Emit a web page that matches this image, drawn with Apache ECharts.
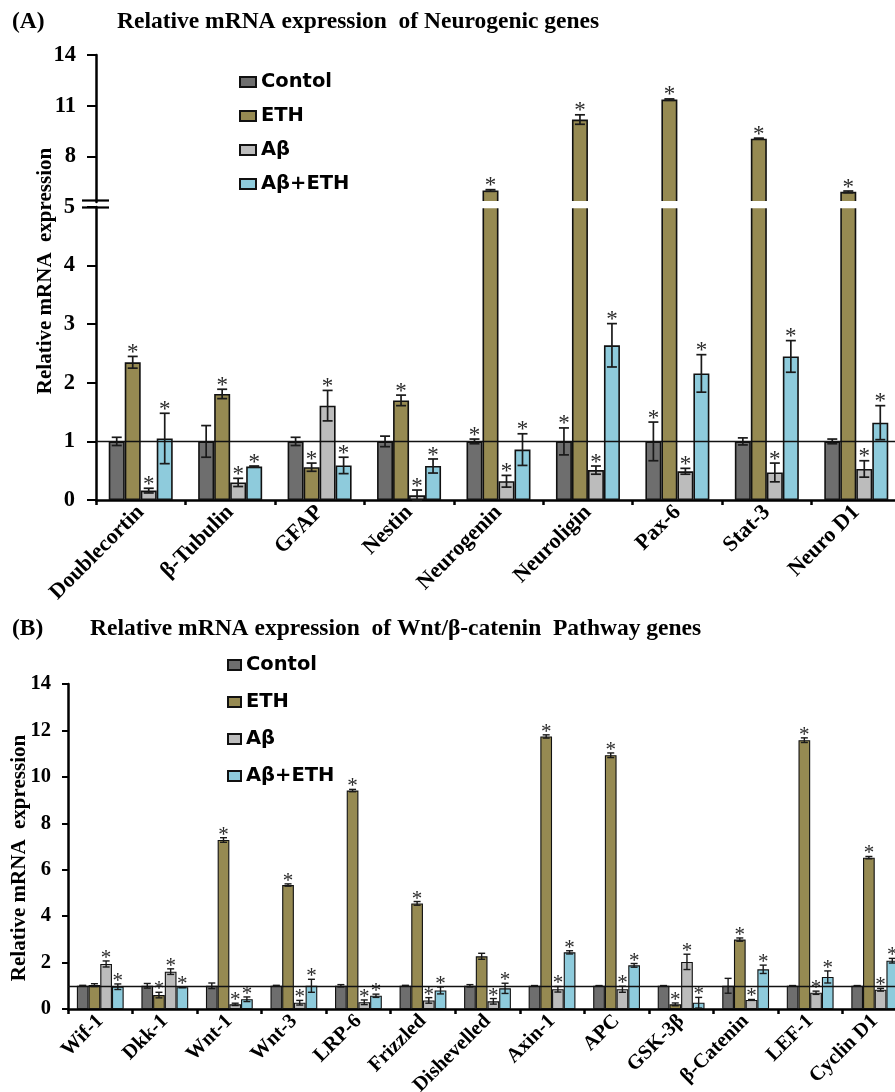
<!DOCTYPE html>
<html><head><meta charset="utf-8">
<script src="https://cdn.jsdelivr.net/npm/echarts@6/dist/echarts.min.js"></script>
<style>html,body{margin:0;padding:0;background:#fff}#c{width:895px;height:1092px}</style>
</head><body><div id="c"></div>
<script>
// ---------- Panel A data ----------
const catA = ['Doublecortin','β-Tubulin','GFAP','Nestin','Neurogenin','Neuroligin','Pax-6','Stat-3','Neuro D1'];
const ctrlA     = [1, 1, 1, 1, 1, 1, 1, 1, 1];
const ctrlErrA  = [0.07, 0.27, 0.07, 0.09, 0.04, 0.23, 0.33, 0.06, 0.04];
const ethA      = [2.35, 1.81, 0.56, 1.70, 5.98, 10.18, 11.36, 9.05, 5.90];
const ethErrA   = [0.10, 0.08, 0.07, 0.09, 0.05, 0.28, 0.04, 0.03, 0.05];
const abA       = [0.16, 0.30, 1.61, 0.08, 0.32, 0.51, 0.49, 0.47, 0.53];
const abErrA    = [0.04, 0.07, 0.26, 0.09, 0.10, 0.07, 0.05, 0.16, 0.14];
const abethA    = [1.05, 0.57, 0.59, 0.58, 0.86, 2.64, 2.16, 2.45, 1.32];
const abethErrA = [0.43, 0.01, 0.14, 0.12, 0.27, 0.37, 0.32, 0.27, 0.29];
const ctrlStarA  = [0, 0, 0, 0, 1, 1, 1, 0, 0];
const ethStarA   = [1, 1, 1, 1, 1, 1, 1, 1, 1];
const abStarA    = [1, 1, 1, 1, 1, 1, 1, 1, 1];
const abethStarA = [1, 1, 1, 1, 1, 1, 1, 1, 1];
const lowTicksA  = [0, 1, 2, 3, 4, 5];
const highTicksA = [8, 11, 14];

// ---------- Panel B data ----------
const catB = ['Wif-1','Dkk-1','Wnt-1','Wnt-3','LRP-6','Frizzled','Dishevelled','Axin-1','APC','GSK-3β','β-Catenin','LEF-1','Cyclin D1'];
const ctrlB     = [1, 1, 1, 1, 1, 1, 1, 1, 1, 1, 1, 1, 1];
const ctrlErrB  = [0.02, 0.10, 0.12, 0.02, 0.05, 0.02, 0.05, 0.01, 0.01, 0.01, 0.32, 0.01, 0.01];
const ethB      = [1.03, 0.60, 7.28, 5.34, 9.41, 4.55, 2.27, 11.74, 10.93, 0.20, 2.99, 11.58, 6.52];
const ethErrB   = [0.06, 0.12, 0.10, 0.05, 0.05, 0.08, 0.13, 0.07, 0.10, 0.06, 0.07, 0.10, 0.05];
const abB       = [1.94, 1.61, 0.20, 0.27, 0.29, 0.37, 0.33, 0.85, 0.85, 2.03, 0.39, 0.70, 0.83];
const abErrB    = [0.13, 0.12, 0.05, 0.10, 0.10, 0.12, 0.12, 0.12, 0.13, 0.33, 0.02, 0.07, 0.06];
const abethB    = [0.96, 0.94, 0.42, 1.00, 0.57, 0.80, 0.89, 2.44, 1.88, 0.27, 1.71, 1.38, 2.08];
const abethErrB = [0.12, 0.02, 0.10, 0.28, 0.07, 0.15, 0.22, 0.07, 0.08, 0.23, 0.18, 0.26, 0.10];
const ctrlStarB  = [0, 0, 0, 0, 0, 0, 0, 0, 0, 0, 0, 0, 0];
const ethStarB   = [0, 1, 1, 1, 1, 1, 0, 1, 1, 1, 1, 1, 1];
const abStarB    = [1, 1, 1, 1, 1, 1, 1, 1, 1, 1, 1, 1, 1];
const abethStarB = [1, 1, 1, 1, 1, 1, 1, 1, 1, 1, 1, 1, 1];

const names  = ['Contol', 'ETH', 'Aβ', 'Aβ+ETH'];
const colors = ['#6e6e6e', '#968a52', '#bcbcbc', '#8ecbdc'];

const SERIF = '"Liberation Serif", "Times New Roman", serif';
const SANS  = '"DejaVu Sans", sans-serif';

const valsA  = [ctrlA, ethA, abA, abethA];
const errsA  = [ctrlErrA, ethErrA, abErrA, abethErrA];
const starsA = [ctrlStarA, ethStarA, abStarA, abethStarA];
const valsB  = [ctrlB, ethB, abB, abethB];
const errsB  = [ctrlErrB, ethErrB, abErrB, abethErrB];
const starsB = [ctrlStarB, ethStarB, abStarB, abethStarB];

function errRender(k, bw, cap, lo, hi, starSize, starGap, lw) {
  return function (params, api) {
    const ci = api.value(0), v = api.value(1), e = api.value(2), s = api.value(3);
    if (v < lo || v > hi) return null;
    const c = api.coord([ci, v]);
    const x = c[0] + (k - 1.5) * bw;
    const yt = api.coord([ci, v + e])[1];
    const yb = api.coord([ci, Math.max(v - e, 0)])[1];
    const st = { stroke: '#1a1a1a', lineWidth: lw };
    const ch = [
      { type: 'line', shape: { x1: x, y1: yt, x2: x, y2: yb }, style: st },
      { type: 'line', shape: { x1: x - cap, y1: yt, x2: x + cap, y2: yt }, style: st },
      { type: 'line', shape: { x1: x - cap, y1: yb, x2: x + cap, y2: yb }, style: st }
    ];
    if (s) ch.push({ type: 'text', x: x, y: yt - starGap,
      style: { text: '*', font: starSize + 'px ' + SERIF, fill: '#2a2a2a', align: 'center', verticalAlign: 'bottom' } });
    return { type: 'group', children: ch };
  };
}

const series = [];
function addPanel(cats, vals, errs, stars, xi, bw, border, cap, lo, hi, starSize, starGap, lw, withLine, errOnly) {
  for (let k = 0; k < 4; k++) {
    const b = {
      type: 'bar', name: names[k], xAxisIndex: xi, yAxisIndex: xi,
      data: vals[k], barWidth: bw, barGap: '0%', clip: true, silent: true,
      itemStyle: { color: colors[k], borderColor: '#111', borderWidth: border }
    };
    if (withLine && k === 3) {
      b.markLine = { silent: true, symbol: 'none', label: { show: false },
        lineStyle: { color: '#111', width: 1.3, type: 'solid' }, data: [{ yAxis: 1 }] };
    }
    series.push(b);
  }
  for (let k = 0; k < 4; k++) {
    if (errOnly !== undefined && errOnly !== k) continue;
    series.push({
      type: 'custom', xAxisIndex: xi, yAxisIndex: xi, silent: true, z: 4,
      renderItem: errRender(k, bw, cap, lo, hi, starSize, starGap, lw),
      data: cats.map((c, i) => [i, vals[k][i], errs[k][i], stars[k][i]])
    });
  }
}
// Panel A upper (broken part), panel A lower, panel B
addPanel(catA, valsA, errsA, starsA, 0, 16, 1.6, 5, 5.0001, 100, 23, -8, 1.7, false, 1);
addPanel(catA, valsA, errsA, starsA, 1, 16, 1.6, 5, -1, 5, 23, -8, 1.7, true);
addPanel(catB, valsB, errsB, starsB, 2, 11.7, 1.1, 3.5, -1, 100, 21, -8, 1.4, true);

const axisLine = { show: true, lineStyle: { color: '#000', width: 2.5 } };
const yLabel = (fs, m) => ({ color: '#000', fontFamily: SERIF, fontWeight: 'bold', fontSize: fs, margin: m });
const xLabel = (fs) => ({ color: '#000', fontFamily: SERIF, fontWeight: 'bold', fontSize: fs, rotate: 45, margin: 9, interval: 0 });
const titleStyle = { fontFamily: SERIF, fontWeight: 'bold', fontSize: 23.5, color: '#000' };

const option = {
  animation: false,
  backgroundColor: '#fff',
  title: [
    { text: '(A)', left: 12, top: 10, padding: 0, textStyle: titleStyle },
    { text: 'Relative mRNA expression  of Neurogenic genes', left: 117, top: 10, padding: 0, textStyle: titleStyle },
    { text: '(B)', left: 12, top: 617, padding: 0, textStyle: titleStyle },
    { text: 'Relative mRNA expression  of Wnt/β-catenin  Pathway genes', left: 90, top: 617, padding: 0, textStyle: titleStyle }
  ],
  legend: [
    { data: names, orient: 'vertical', left: 239, top: 72, itemWidth: 16, itemHeight: 10, itemGap: 14, icon: 'rect', padding: 0,
      selectedMode: false, textStyle: { fontFamily: SANS, fontWeight: 'bold', fontSize: 19.5, color: '#000' } },
    { data: names, orient: 'vertical', left: 227, top: 655, itemWidth: 13, itemHeight: 10, itemGap: 17, icon: 'rect', padding: 0,
      selectedMode: false, textStyle: { fontFamily: SANS, fontWeight: 'bold', fontSize: 19.5, color: '#000' } }
  ],
  grid: [
    { left: 96, right: -6, top: 55, height: 147, outerBoundsMode: 'none', containLabel: false },
    { left: 96, right: -6, top: 207, height: 293, outerBoundsMode: 'none', containLabel: false },
    { left: 68, right: -12, top: 684, height: 325, outerBoundsMode: 'none', containLabel: false }
  ],
  xAxis: [
    { type: 'category', gridIndex: 0, data: catA, show: false },
    { type: 'category', gridIndex: 1, data: catA, axisLine: axisLine,
      axisTick: { show: true, length: 5, interval: 0, lineStyle: { color: '#000', width: 2.5 } }, axisLabel: xLabel(22) },
    { type: 'category', gridIndex: 2, data: catB, axisLine: axisLine,
      axisTick: { show: true, length: 5, interval: 0, lineStyle: { color: '#000', width: 2.5 } }, axisLabel: xLabel(20.5) }
  ],
  yAxis: [
    { type: 'value', gridIndex: 0, min: 5.3, max: 14, axisLine: axisLine, splitLine: { show: false },
      axisTick: { show: true, length: 9, customValues: highTicksA, lineStyle: { color: '#000', width: 2 } },
      axisLabel: Object.assign(yLabel(22.5, 20), { customValues: highTicksA }) },
    { type: 'value', gridIndex: 1, min: 0, max: 5, interval: 1, axisLine: axisLine, splitLine: { show: false },
      axisTick: { show: true, length: 9, lineStyle: { color: '#000', width: 2 } },
      axisLabel: Object.assign(yLabel(22.5, 21), { customValues: lowTicksA }) },
    { type: 'value', gridIndex: 2, min: 0, max: 14, interval: 2, axisLine: axisLine, splitLine: { show: false },
      axisTick: { show: true, length: 6, lineStyle: { color: '#000', width: 2 } },
      axisLabel: yLabel(20.5, 17) }
  ],
  graphic: [
    { type: 'rect', shape: { x: 98, y: 201, width: 810, height: 7.2 }, style: { fill: '#fff' }, z: 50 },
    { type: 'line', shape: { x1: 82, y1: 200.5, x2: 109, y2: 200.5 }, style: { stroke: '#000', lineWidth: 2.2 }, z: 60 },
    { type: 'line', shape: { x1: 82, y1: 207.5, x2: 109, y2: 207.5 }, style: { stroke: '#000', lineWidth: 2.2 }, z: 60 },
    { type: 'text', x: 46, y: 271, rotation: Math.PI / 2,
      style: { text: 'Relative mRNA  expression', font: 'bold 21px ' + SERIF, fill: '#000', align: 'center', verticalAlign: 'middle' } },
    { type: 'text', x: 20, y: 858, rotation: Math.PI / 2,
      style: { text: 'Relative mRNA  expression', font: 'bold 21px ' + SERIF, fill: '#000', align: 'center', verticalAlign: 'middle' } }
  ],
  series: series
};

const chart = echarts.init(document.getElementById('c'), null, { renderer: 'canvas' });
chart.setOption(option);
</script>
</body></html>
